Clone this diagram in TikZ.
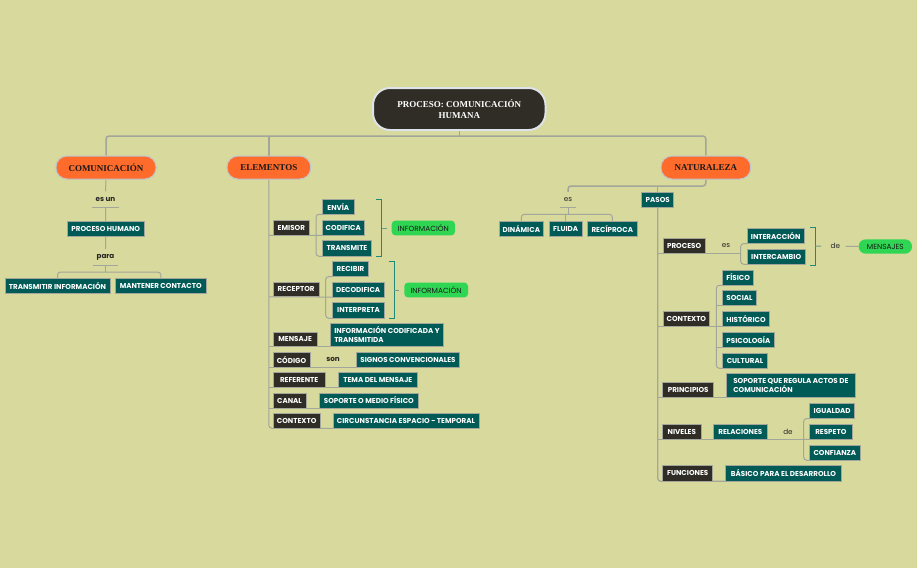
\documentclass[tikz,border=0pt]{standalone}
\usepackage{fontspec}
\setmainfont{Poppins}
\newfontfamily\headfont{Liberation Serif}
\usetikzlibrary{backgrounds}
\definecolor{bgc}{HTML}{D8D99C}
\definecolor{tealb}{HTML}{005A56}
\definecolor{darkb}{HTML}{2F2D25}
\definecolor{orangeb}{HTML}{FF6B2B}
\definecolor{greenb}{HTML}{2FD653}
\definecolor{linec}{HTML}{A3A69A}
\definecolor{brk}{HTML}{1F8A78}
\definecolor{rootedge}{HTML}{DDE3E8}
\definecolor{headedge}{HTML}{BFC3CC}
\tikzset{
  box/.style={inner sep=0pt,font=\fontsize{7.15}{9}\selectfont\bfseries,text=white,align=left,draw=linec,line width=0.5pt},
  tealbox/.style={box,fill=tealb},
  darkbox/.style={box,fill=darkb},
  greenbox/.style={inner sep=0pt,font=\fontsize{7.4}{9}\selectfont,text=black!90,fill=greenb,rounded corners=3.5pt},
  greenpill/.style={greenbox,rounded corners=7pt},
  headpill/.style={inner sep=0pt,font=\headfont\fontsize{9}{11}\selectfont\bfseries,text=black!90,fill=orangeb,draw=headedge,line width=1pt,rounded corners=11pt},
  rootpill/.style={inner sep=0pt,font=\headfont\fontsize{9}{11.5}\selectfont\bfseries,text=white,fill=darkb,draw=rootedge,line width=2pt,rounded corners=17pt,align=center},
  lab/.style={inner sep=0pt,font=\fontsize{7.2}{9}\selectfont,text=black!85},
  blab/.style={lab,font=\fontsize{7.2}{9}\selectfont\bfseries},
  conn/.style={draw=linec,line width=1pt,rounded corners=3pt},
  bus/.style={conn,line width=1.5pt},
  gbr/.style={draw=brk,line width=1pt},
  stem/.style={draw=linec!60!brk,line width=1pt}
}
\newcommand{\bx}[7]{\node[#1,minimum width={(#5)-(#3)},minimum height={(#6)-(#4)}] (#2) at ({((#3)+(#5))/2},{((#4)+(#6))/2}) {#7};}
\begin{document}
\begin{tikzpicture}[x=1pt,y=-1pt]
\useasboundingbox (0,0) rectangle (917,568);
% nodes
\bx{rootpill}{root}{373}{88}{545.5}{130}{PROCESO: COMUNICACIÓN\\HUMANA}
\bx{headpill}{comm}{56}{156}{156}{179}{COMUNICACIÓN}
\bx{headpill}{elem}{227}{156}{310.7}{179}{ELEMENTOS}
\bx{headpill}{nat}{661}{156}{750.7}{179}{NATURALEZA}
% left
\bx{blab}{esun}{92}{191.5}{119}{207.5}{es un}
\bx{tealbox}{phum}{67}{221}{144.5}{236}{PROCESO HUMANO}
\bx{blab}{para}{93}{249}{118}{265}{para}
\bx{tealbox}{trans}{5}{278.5}{110}{293.5}{TRANSMITIR INFORMACIÓN}
\bx{tealbox}{mant}{115.5}{278.5}{206}{293.5}{MANTENER CONTACTO}
% elementos
\bx{darkbox}{emisor}{273}{220}{309.7}{235}{EMISOR}
\bx{tealbox}{envia}{322.3}{199.3}{354.3}{214}{ENVÍA}
\bx{tealbox}{codif}{322.3}{220}{364.3}{235}{CODIFICA}
\bx{tealbox}{transm}{322.3}{240.7}{371.7}{256}{TRANSMITE}
\bx{greenbox}{info1}{391.7}{220.7}{455}{235.3}{INFORMACIÓN}
\bx{darkbox}{recep}{273}{282}{319.3}{296.7}{RECEPTOR}
\bx{tealbox}{recib}{332.3}{261.3}{368.7}{276.3}{RECIBIR}
\bx{tealbox}{decod}{332.3}{282}{384}{297}{DECODIFICA}
\bx{tealbox}{interp}{332.3}{302.7}{384.7}{318}{INTERPRETA}
\bx{greenbox}{info2}{404.3}{282.7}{468}{297.3}{INFORMACIÓN}
\bx{darkbox}{mens}{273}{332}{317.3}{346.7}{MENSAJE}
\bx{tealbox}{infoc}{330.3}{323.3}{443.7}{346.7}{INFORMACIÓN CODIFICADA Y\\TRANSMITIDA}
\bx{darkbox}{codigo}{273}{352.3}{310}{367}{CÓDIGO}
\bx{blab}{son}{323}{352.3}{343}{367}{son}
\bx{tealbox}{signos}{356.3}{352.3}{459.7}{367.3}{SIGNOS CONVENCIONALES}
\bx{darkbox}{refer}{273}{372.7}{325.3}{387.5}{REFERENTE}
\bx{tealbox}{tema}{338.3}{372.7}{417.3}{387.5}{TEMA DEL MENSAJE}
\bx{darkbox}{canal}{273}{393}{306}{408}{CANAL}
\bx{tealbox}{sopor}{319}{393}{418.7}{408}{SOPORTE O MEDIO FÍSICO}
\bx{darkbox}{contx}{273}{413.3}{320.3}{428}{CONTEXTO}
\bx{tealbox}{circ}{333}{413.3}{479}{428}{CIRCUNSTANCIA ESPACIO - TEMPORAL}
% naturaleza
\bx{lab}{es}{560}{192}{576}{207.7}{es}
\bx{tealbox}{pasos}{641.7}{192.3}{673.7}{207.5}{PASOS}
\bx{tealbox}{dinam}{499}{221.3}{543.7}{236}{DINÁMICA}
\bx{tealbox}{fluid}{549}{221.3}{582.3}{236}{FLUIDA}
\bx{tealbox}{recip}{587.3}{221.3}{637.3}{236}{RECÍPROCA}
\bx{darkbox}{proc}{663}{238.3}{705.3}{253.3}{PROCESO}
\bx{lab}{espr}{718}{238.3}{734}{253.3}{es}
\bx{tealbox}{intera}{747}{228.3}{804.3}{243.3}{INTERACCIÓN}
\bx{tealbox}{interc}{747}{249}{805.3}{264}{INTERCAMBIO}
\bx{lab}{deg}{825.3}{239}{845.3}{253.5}{de}
\bx{greenpill}{mnsj}{858.7}{239.3}{912}{253.7}{MENSAJES}
\bx{darkbox}{ctx}{663}{311.3}{709.7}{326}{CONTEXTO}
\bx{tealbox}{fisico}{722.7}{270}{753.7}{285}{FÍSICO}
\bx{tealbox}{social}{722.7}{290.7}{756.3}{305.7}{SOCIAL}
\bx{tealbox}{histo}{722.7}{311.3}{769.3}{326}{HISTÓRICO}
\bx{tealbox}{psico}{722.7}{332.3}{774}{347}{PSICOLOGÍA}
\bx{tealbox}{cultu}{722.7}{353}{767.3}{368}{CULTURAL}
\bx{darkbox}{princ}{662.7}{382.7}{713.7}{397.5}{PRINCIPIOS}
\bx{tealbox}{sopq}{726.7}{373.7}{855}{397.7}{SOPORTE QUE REGULA ACTOS DE\\COMUNICACIÓN}
\bx{darkbox}{nivel}{662.7}{424.3}{701}{439}{NIVELES}
\bx{tealbox}{relac}{713.7}{424.3}{767}{439}{RELACIONES}
\bx{lab}{derel}{778}{424.3}{798}{439}{de}
\bx{tealbox}{igual}{809.7}{403.3}{854.7}{418.3}{IGUALDAD}
\bx{tealbox}{respe}{809.7}{424}{852}{439}{RESPETO}
\bx{tealbox}{confi}{809.7}{445}{860}{460}{CONFIANZA}
\bx{darkbox}{funci}{662.7}{465.7}{712.7}{481}{FUNCIONES}
\bx{tealbox}{basic}{725.3}{465.7}{841.7}{481}{BÁSICO PARA EL DESARROLLO}
% junctions
\coordinate (busy) at (0,136);
\coordinate (py) at (105.5,272);
\coordinate (eb) at (316,235.3);
\coordinate (rb) at (325.7,297);
\coordinate (nj) at (705.8,186);
\coordinate (ej) at (568,214.3);
\coordinate (pb) at (740.7,253.7);
\coordinate (cb) at (716.3,326.3);
\coordinate (nb) at (803.7,439.3);
\coordinate (g1) at (381.7,228);
\coordinate (g2) at (394.3,290);
\coordinate (g3) at (815.3,246);
\coordinate (g1t) at (376,199);
\coordinate (g1b) at (376,256.7);
\coordinate (g2t) at (389,261);
\coordinate (g2b) at (389,318.5);
\coordinate (g3t) at (810,227.7);
\coordinate (g3b) at (810,265);
\begin{scope}[on background layer]
\fill[bgc] (0,0) rectangle (917,568);
% top bus
\draw[bus] (comm.north) -- (comm.north |- busy) -- (nat.north |- busy) -- (nat.north);
\draw[bus] (root.south) -- (root.south |- busy);
\draw[bus] (elem.north) -- (elem.north |- busy);
% left
\draw[conn] (comm.south) -- (esun.north);
\draw[conn] (esun.south west) -- (esun.south east);
\draw[conn] (esun.south) -- (phum.north);
\draw[conn] (phum.south) -- (para.north);
\draw[conn] (para.south west) -- (para.south east);
\draw[conn] (para.south) -- (py);
\draw[conn] (trans.north) -- (trans.north |- py) -- (mant.north |- py) -- (mant.north);
% elementos trunk
\draw[conn] (elem.south) -- (elem.south |- circ.south) -- (circ.south east);
\draw[conn] (elem.south |- emisor.south) -- (eb);
\draw[conn] (elem.south |- recep.south) -- (rb);
\draw[conn] (elem.south |- infoc.south) -- (infoc.south east);
\draw[conn] (elem.south |- signos.south) -- (signos.south east);
\draw[conn] (elem.south |- tema.south) -- (tema.south east);
\draw[conn] (elem.south |- sopor.south) -- (sopor.south east);
\draw[conn] (envia.south west) -| (eb) |- (transm.south west);
\draw[conn] (eb) -- (codif.south west);
\draw[conn] (recib.south west) -| (rb) |- (interp.south west);
\draw[conn] (rb) -- (decod.south west);
% green brackets
\draw[gbr] (g1t) -- (g1t -| g1) -- (g1b -| g1) -- (g1b);
\draw[stem,shorten >=4.7pt] (g1) -- (info1.west);
\draw[gbr] (g2t) -- (g2t -| g2) -- (g2b -| g2) -- (g2b);
\draw[stem,shorten >=4.7pt] (g2) -- (info2.west);
\draw[gbr] (g3t) -- (g3t -| g3) -- (g3b -| g3) -- (g3b);
\draw[stem,shorten >=4pt] (g3) -- (deg.west);
\draw[conn] (deg.east) -- (mnsj.west);
% naturaleza
\draw[bus] (nat.south) -- (nj) -- (nj -| es) -- (es.north);
\draw[bus] (pasos.north |- nj) -- (pasos.north);
\draw[conn] (es.south west) -- (es.south east);
\draw[conn] (es.south) -- (ej);
\draw[conn] (dinam.north) -- (dinam.north |- ej) -- (recip.north |- ej) -- (recip.north);
\draw[conn] (fluid.north |- ej) -- (fluid.north);
% pasos trunk
\draw[conn,line width=1.2pt] (pasos.south) -- (pasos.south |- basic.south) -- (basic.south east);
\draw[conn] (pasos.south |- pb) -- (pb);
\draw[conn] (intera.south west) -| (pb) |- (interc.south west);
\draw[conn] (pasos.south |- cb) -- (cb);
\draw[conn] (fisico.south west) -| (cb) |- (cultu.south west);
\draw[conn] (social.south west) -- (social.south west -| cb);
\draw[conn] (psico.south west) -- (psico.south west -| cb);
\draw[conn] (cb) -- (histo.south west);
\draw[conn] (pasos.south |- sopq.south) -- (sopq.south east);
\draw[conn] (pasos.south |- nb) -- (nb);
\draw[conn] (igual.south west) -| (nb) |- (confi.south west);
\draw[conn] (nb) -- (respe.south west);
\end{scope}
\end{tikzpicture}
\end{document}
